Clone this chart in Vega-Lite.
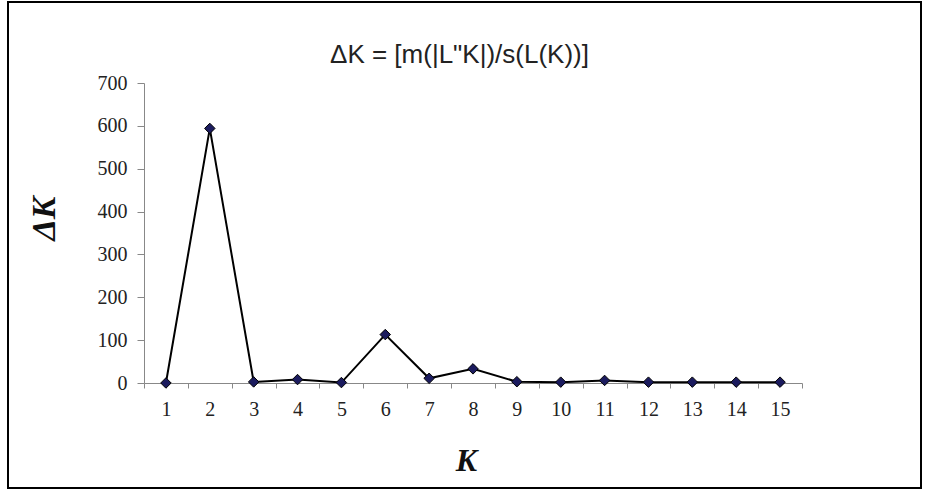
{
  "$schema": "https://vega.github.io/schema/vega-lite/v6.json",
  "autosize": "none",
  "padding": {"left": 8, "top": 2, "right": 6, "bottom": 1},
  "width": 913,
  "height": 486,
  "background": "white",
  "title": {
    "text": "ΔK = [m(|L\"K|)/s(L(K))]",
    "font": "Liberation Sans",
    "fontSize": 26,
    "fontWeight": "normal",
    "color": "#222222",
    "anchor": "middle",
    "frame": "group",
    "orient": "top",
    "offset": 0,
    "baseline": "alphabetic",
    "dy": 87,
    "dx": -5
  },
  "data": {
    "values": [
      {"K": 1, "deltaK": 0},
      {"K": 2, "deltaK": 594},
      {"K": 3, "deltaK": 2.5},
      {"K": 4, "deltaK": 8},
      {"K": 5, "deltaK": 1},
      {"K": 6, "deltaK": 113},
      {"K": 7, "deltaK": 11},
      {"K": 8, "deltaK": 33},
      {"K": 9, "deltaK": 3},
      {"K": 10, "deltaK": 2},
      {"K": 11, "deltaK": 6},
      {"K": 12, "deltaK": 2},
      {"K": 13, "deltaK": 2},
      {"K": 14, "deltaK": 2},
      {"K": 15, "deltaK": 2}
    ]
  },
  "encoding": {
    "x": {
      "field": "K",
      "type": "ordinal",
      "sort": null,
      "scale": {"type": "band", "range": [136, 794], "paddingInner": 0, "paddingOuter": 0},
      "axis": {
        "orient": "bottom",
        "offset": -105,
        "labelAngle": 0,
        "tickBand": "extent",
        "domainColor": "#888888",
        "domainWidth": 1,
        "tickColor": "#888888",
        "tickWidth": 1,
        "tickSize": 5,
        "labelPadding": 11,
        "labelFont": "Liberation Serif",
        "labelFontSize": 20,
        "labelColor": "#222222",
        "labelBaseline": "top",
        "grid": false,
        "title": "K",
        "titleFont": "Liberation Serif",
        "titleFontSize": 32,
        "titleFontWeight": "bold",
        "titleFontStyle": "italic",
        "titleColor": "#111111",
        "titleAnchor": "start",
        "titleAlign": "center",
        "titleBaseline": "middle",
        "titleX": 458,
        "titleY": 77
      }
    },
    "y": {
      "field": "deltaK",
      "type": "quantitative",
      "scale": {"domain": [0, 700], "range": [381, 81], "nice": false, "zero": true},
      "axis": {
        "orient": "left",
        "offset": -136,
        "values": [0, 100, 200, 300, 400, 500, 600, 700],
        "domainColor": "#888888",
        "domainWidth": 1,
        "tickColor": "#888888",
        "tickWidth": 1,
        "tickSize": 7,
        "labelPadding": 10,
        "labelFont": "Liberation Serif",
        "labelFontSize": 20,
        "labelColor": "#222222",
        "grid": false,
        "title": "ΔK",
        "titleFont": "Liberation Serif",
        "titleFontSize": 34,
        "titleFontWeight": "bold",
        "titleFontStyle": "italic",
        "titleColor": "#111111",
        "titleAngle": -90,
        "titleAnchor": "start",
        "titleAlign": "center",
        "titleBaseline": "middle",
        "titleX": -100,
        "titleY": 216
      }
    }
  },
  "layer": [
    {"mark": {"type": "line", "color": "black", "strokeWidth": 2}},
    {"mark": {"type": "point", "shape": "diamond", "filled": true, "fill": "#1b1b5e", "stroke": "black", "strokeWidth": 1, "size": 110, "opacity": 1}}
  ],
  "config": {"view": {"stroke": "black", "strokeWidth": 2}}
}
